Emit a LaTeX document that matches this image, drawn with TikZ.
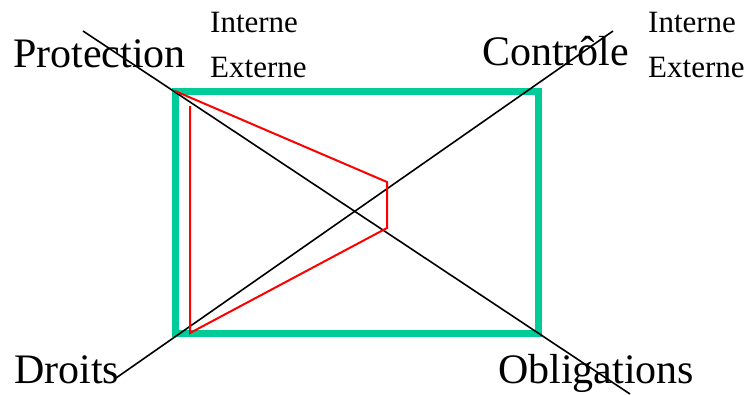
\documentclass[tikz,border=0pt]{standalone}
\usepackage{fontspec}
\setmainfont{Liberation Serif}
\usepackage{xcolor}
\usetikzlibrary{positioning}
\definecolor{framegreen}{RGB}{0,204,153}

\begin{document}
\begin{tikzpicture}[
  x=1pt, y=-1pt,
  big/.style={font=\fontsize{42}{50}\selectfont, anchor=base west, inner sep=0pt},
  small/.style={font=\fontsize{31}{37}\selectfont, anchor=base west, inner sep=0pt},
  frame/.style={draw=framegreen, line width=7pt},
  axis/.style={black, line width=1.6pt},
  profile/.style={red, line width=2pt}
]
\useasboundingbox (0,0) rectangle (751,394);

% cadre
\coordinate (tl) at (175,91);
\coordinate (br) at (538,333);
\draw[frame] (tl) rectangle (br);

% axes
\coordinate (pEnd) at (83,31);
\coordinate (oEnd) at (630,394);
\coordinate (dEnd) at (116,378);
\coordinate (cEnd) at (613,31);
\draw[axis] (pEnd) -- (oEnd);
\draw[axis] (dEnd) -- (cEnd);

% profil
\coordinate (r1) at (387,182);
\coordinate (r2) at (387,228);
\coordinate (r3) at (190,333);
\coordinate (r4) at (190,106);
\draw[profile] (tl) -- (r1) -- (r2) -- (r3) -- (r4);

% libelles
\node[big] (prot) at (13,67) {Protection};
\node[small] (intP) at (210,32) {Interne};
\node[small] (extP) at (210,77) {Externe};
\node[big] (ctrl) at (482,65) {Contrôle};
\node[small] (intC) at (648,32) {Interne};
\node[small] (extC) at (648,77) {Externe};
\node[big] (droits) at (14,383) {Droits};
\node[big] (oblig) at (498,383) {Obligations};
\end{tikzpicture}
\end{document}
